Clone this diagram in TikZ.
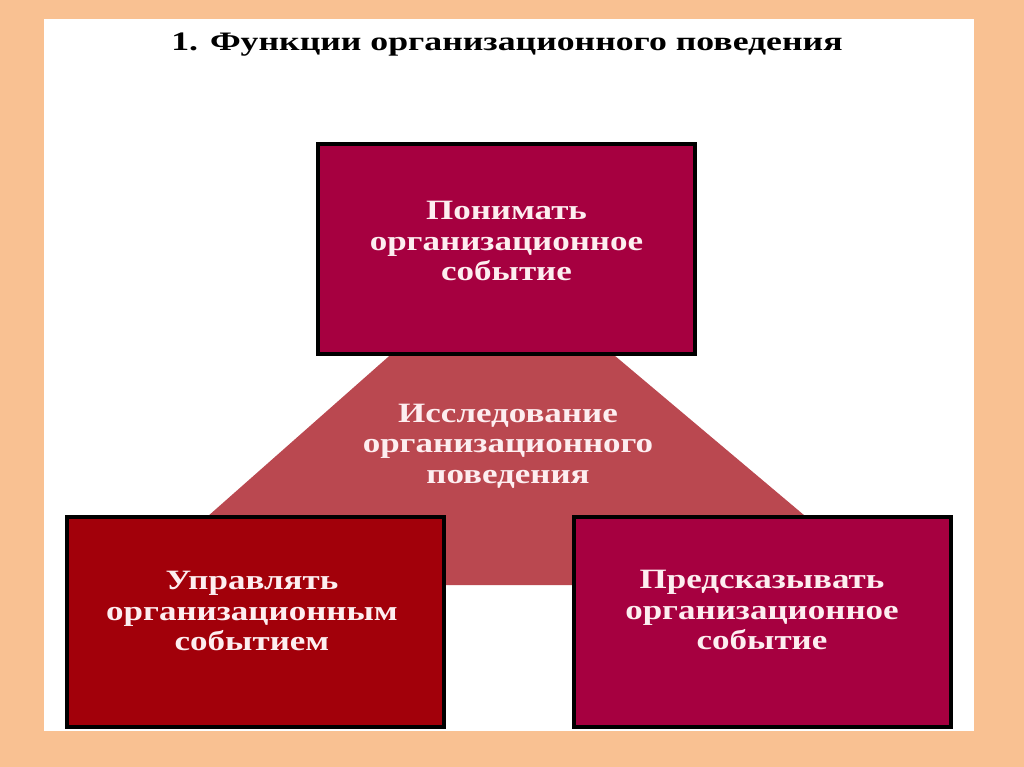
\documentclass[tikz,border=0pt]{standalone}
\usepackage{fontspec}
\setmainfont{Liberation Serif}
\newfontfamily\widefont[FakeStretch=1.25]{Liberation Serif}
\newfontfamily\headfont[FakeStretch=1.34]{Liberation Serif}
\usetikzlibrary{positioning,calc}
\definecolor{peach}{HTML}{F9C192}
\definecolor{crimson}{HTML}{A60040}
\definecolor{blood}{HTML}{A2000A}
\definecolor{rose}{HTML}{BA4850}
\definecolor{pale}{HTML}{FDEEF0}

\begin{document}
\begin{tikzpicture}[x=0.75pt,y=-0.75pt,
    funcbox/.style={draw=black,line width=3pt,minimum width=282.75pt,minimum height=157.5pt,inner sep=0pt},
    functext/.style={text=pale,font=\widefont\fontsize{21}{23}\selectfont\bfseries,align=center,inner sep=0pt}]
    % slide frame
    \fill[peach] (0,0) rectangle (1024,767);
    \fill[white] (44,19) rectangle (974,731);
    \useasboundingbox (0,0) rectangle (1024,767);

    % title
    \node[font=\headfont\fontsize{20}{24}\selectfont\bfseries,inner sep=0pt] (title) at (507,45) {1. Функции организационного поведения};

    % central trapezoid
    \fill[rose] (396,350) -- (608,350) -- (887,585) -- (130,585) -- cycle;
    \node[functext] (research) at (508,446) {Исследование\\организационного\\поведения};

    % top box
    \node[funcbox,fill=crimson] (understand) at (506.5,249) {};
    \node[functext] (understandtext) at ($(understand.center)+(0,-8)$) {Понимать\\организационное\\событие};

    % bottom boxes
    \node[funcbox,fill=blood] (manage) at (255,622) {};
    \node[funcbox,fill=crimson,right=94.5pt of manage] (predict) {};
    \node[functext] (managetext) at ($(manage.center)+(-3,-11)$) {Управлять\\организационным\\событием};
    \node[functext] (predicttext) at ($(predict.center)+(0,-12)$) {Предсказывать\\организационное\\событие};
  \end{tikzpicture}
\end{document}
